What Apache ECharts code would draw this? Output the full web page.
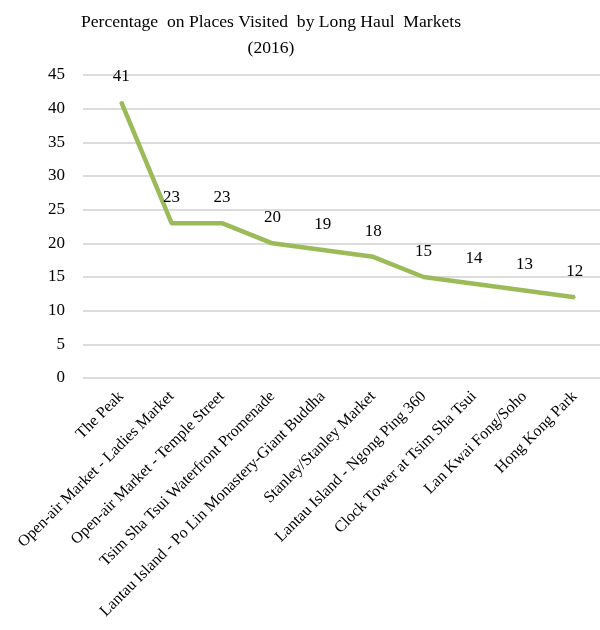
<!DOCTYPE html>
<html><head><meta charset="utf-8">
<script src="https://cdn.jsdelivr.net/npm/echarts@6/dist/echarts.min.js"></script>
<style>html,body{margin:0;padding:0;background:#fff}#c{width:600px;height:630px}</style>
</head><body><div id="c"></div>
<script>
const titleText = "Percentage  on Places Visited  by Long Haul  Markets\n(2016)";
const categories = ["The Peak","Open-air Market - Ladies Market","Open-air Market - Temple Street","Tsim Sha Tsui Waterfront Promenade","Lantau Island - Po Lin Monastery-Giant Buddha","Stanley/Stanley Market","Lantau Island - Ngong Ping 360","Clock Tower at Tsim Sha Tsui","Lan Kwai Fong/Soho","Hong Kong Park"];
const values = [41,23,23,20,19,18,15,14,13,12];
const yMin = 0, yMax = 45, yStep = 5;
const font = "'Liberation Serif','Times New Roman',serif";
const chart = echarts.init(document.getElementById('c'));
chart.setOption({
  animation:false,
  title:{text:titleText,left:266,textAlign:'center',top:4,textStyle:{fontFamily:font,fontWeight:'normal',fontSize:17.6,color:'#000',lineHeight:26}},
  grid:[{left:83,right:0,top:75,bottom:252},{left:96,right:-3,top:75,bottom:252}],
  xAxis:[
    {gridIndex:0,type:'category',data:categories,show:false},
    {gridIndex:1,type:'category',data:categories,boundaryGap:true,
     axisLine:{show:false},axisTick:{show:false},
     axisLabel:{rotate:45,margin:16,interval:0,fontFamily:font,fontSize:16,color:'#000'}}
  ],
  yAxis:[
    {gridIndex:0,type:'value',min:yMin,max:yMax,interval:yStep,
     axisLine:{show:false},axisTick:{show:false},
     axisLabel:{fontFamily:font,fontSize:17,color:'#000',margin:18},
     splitLine:{lineStyle:{color:'#d0d0d0',width:1.5}}},
    {gridIndex:1,type:'value',min:yMin,max:yMax,interval:yStep,show:false,splitLine:{show:false}}
  ],
  series:[{
    type:'line',xAxisIndex:1,yAxisIndex:1,data:values,
    symbol:'circle',symbolSize:2,showSymbol:true,
    itemStyle:{color:'#9BBB59'},
    lineStyle:{color:'#9BBB59',width:4.5},
    label:{show:true,position:'top',distance:16,fontFamily:font,fontSize:17,color:'#000'},
    labelLayout:{hideOverlap:false}
  }]
});
</script></body></html>
